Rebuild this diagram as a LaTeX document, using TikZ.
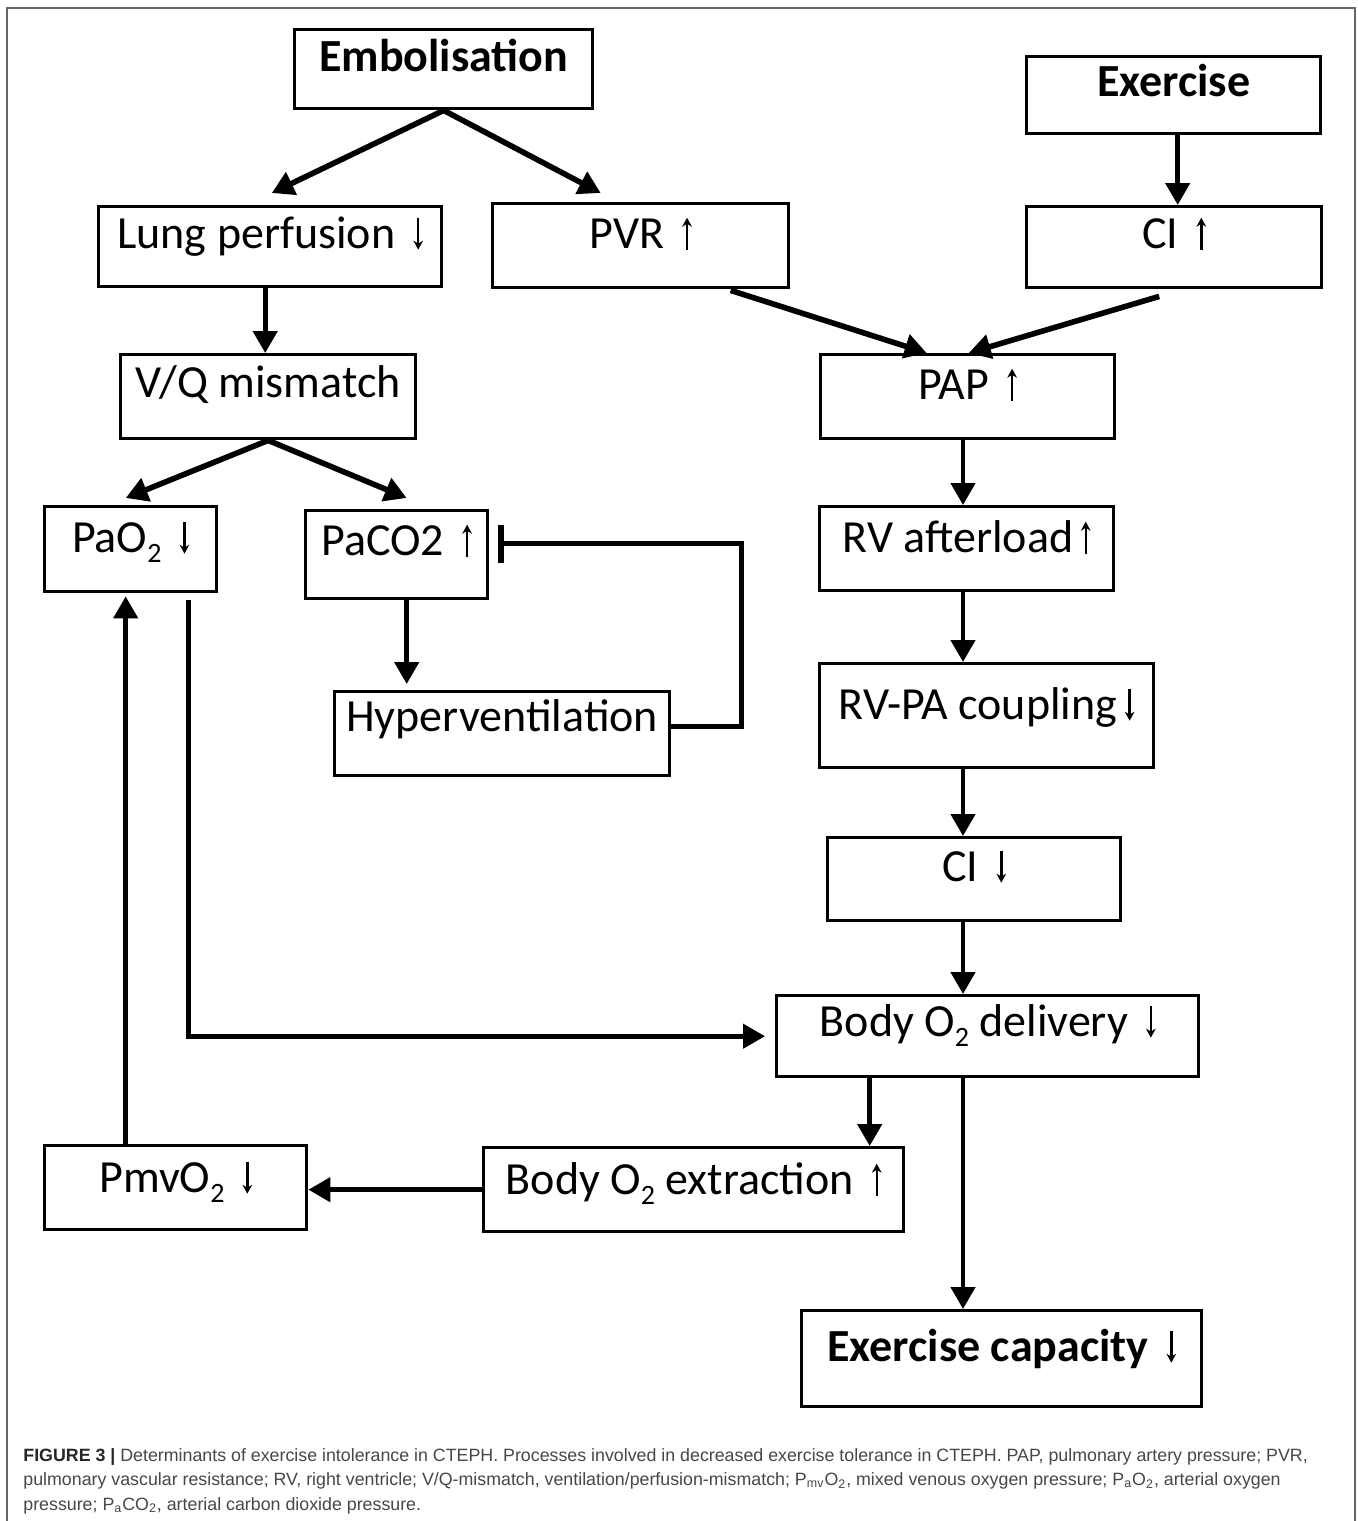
\documentclass[tikz,border=0pt]{standalone}
\usepackage{fontspec}
\setmainfont{Carlito}
\newfontfamily\capfont{Liberation Sans}
\usetikzlibrary{arrows.meta,calc}
\newcommand\uarr{\,\tikz[baseline=0pt]{\draw[line width=1.2pt,-{Stealth[length=4.5pt,width=4.8pt]}] (0pt,-0.5pt) -- (0pt,15.5pt);}}
\newcommand\darr{\,\tikz[baseline=0pt]{\draw[line width=1.2pt,-{Stealth[length=4.5pt,width=4.8pt]}] (0pt,15.5pt) -- (0pt,-0.5pt);}}
\newcommand\subtwo{\raisebox{-0.22em}{\fontsize{14}{14}\selectfont 2}}
\begin{document}
\begin{tikzpicture}[x=0.5pt,y=-0.5pt,
  bx/.style n args={3}{draw, line width=1.7pt, anchor=north west, inner xsep=0pt, inner ysep=0pt,
     minimum width=#1, text height=#2, text depth=#3, font=\fontsize{23}{27}\selectfont},
  bbx/.style n args={3}{bx={#1}{#2}{#3}, font=\fontsize{23}{27}\selectfont\bfseries},
  arr/.style={line width=2.3pt, -{Triangle[length=11pt,width=12pt]}},
  darr/.style={line width=2.8pt, -{Triangle[length=11pt,width=12pt]}},
  inh/.style={line width=2.6pt, -{Bar[width=19pt,line width=2.6pt]}},
  captext/.style={anchor=base west, inner sep=0pt, text=black!72, font=\capfont\fontsize{8.9}{10}\selectfont}
]
\useasboundingbox (0,0) rectangle (1358,1521);
\fill[white] (0,0) rectangle (1358,1521);
\draw[black!60, line width=0.8pt] (7,8) rectangle (1355,1560);

% boxes
\node[bbx={149pt}{21pt}{18.5pt}] (emb) at (293,28) {Embolisation};
\node[bbx={147pt}{20pt}{18.5pt}] (exer) at (1025,55) {Exercise};
\node[bx={171.5pt}{21pt}{19pt}] (lung) at (97,205) {Lung perfusion \darr};
\node[bx={148pt}{22.5pt}{19.5pt}] (pvr) at (491,202) {PVR \uarr};
\node[bx={147.5pt}{21pt}{19.5pt}] (cia) at (1025,205) {CI \uarr};
\node[bx={147.5pt}{21.5pt}{20.5pt}] (vq) at (119,353) {V/Q mismatch};
\node[bx={147pt}{22.5pt}{19.5pt}] (pap) at (819,353) {PAP \uarr};
\node[bx={86pt}{23pt}{19.5pt}] (pao) at (43,505) {PaO\subtwo{} \darr};
\node[bx={91pt}{22.5pt}{21.5pt}] (paco) at (304,509) {PaCO2 \uarr};
\node[bx={167.5pt}{20pt}{22pt}] (hyp) at (333,690) {Hyperventilation};
\node[bx={147pt}{23pt}{19pt}] (rva) at (818,505) {RV afterload\uarr};
\node[bx={167pt}{28pt}{24pt}] (rvpa) at (818,662) {RV-PA coupling\darr};
\node[bx={146.5pt}{22pt}{19.5pt}] (cid) at (826,836) {CI \darr};
\node[bx={211pt}{20.5pt}{20pt}] (del) at (775,994) {Body O\subtwo{} delivery \darr};
\node[bx={131pt}{23.5pt}{18.5pt}] (pmv) at (43,1144) {PmvO\subtwo{} \darr};
\node[bx={210pt}{23.5pt}{18.5pt}] (ext) at (482,1146) {Body O\subtwo{} extraction \uarr};
\node[bbx={200pt}{25.5pt}{22.5pt}] (capa) at (800,1309) {Exercise capacity \darr};

\coordinate (colx) at (963,0);

% connectors
\draw[darr] (emb.south) -- ($(lung.north)+(1.5,-12)$);
\draw[darr] (emb.south) -- ($(pvr.north)+(-40,-9)$);
\draw[arr] ([xshift=2pt]exer.south) -- ([xshift=2pt]exer.south |- cia.north);
\draw[arr] ([xshift=-2.5pt]lung.south) -- ([xshift=-2.5pt]lung.south |- vq.north);
\draw[darr] (vq.south) -- ($(pao.north)+(-5,-7)$);
\draw[darr] (vq.south) -- ($(paco.north)+(10,-11)$);
\draw[darr] ($(pvr.south)+(90,1)$) -- ($(pap.north)+(-41,0)$);
\draw[darr] ($(cia.south)+(-15,7)$) -- ($(pap.north)+(1,0)$);
\draw[arr] (colx |- pap.south) -- (colx |- rva.north);
\draw[arr] (colx |- rva.south) -- (colx |- rvpa.north);
\draw[arr] (colx |- rvpa.south) -- (colx |- cid.north);
\draw[arr] (colx |- cid.south) -- (colx |- del.north);
\draw[arr, shorten >=3pt] ([xshift=5pt]paco.south) -- ([xshift=5pt]paco.south |- hyp.north);
\draw[inh] ([yshift=3.5pt]hyp.east) -- ++(70,0) |- ($(paco.east)+(9,-11)$);
\draw[arr, shorten >=1.5pt] ([xshift=-25pt]pmv.north) -- ([xshift=-25pt]pmv.north |- pao.south);
\draw[arr, shorten >=5pt] ($(pao.south)+(57.5,7)$) |- (del.west);
\draw[arr] ([xshift=-59pt]del.south) -- ([xshift=-59pt]del.south |- ext.north);
\draw[arr] (colx |- del.south) -- (colx |- capa.north);
\draw[arr] (ext.west) -- (ext.west -| pmv.east);

% caption
\node[captext] (cap1) at (23,1461) {{\color{black!85}\textbf{FIGURE 3 |}} Determinants of exercise intolerance in CTEPH. Processes involved in decreased exercise tolerance in CTEPH. PAP, pulmonary artery pressure; PVR,};
\node[captext] (cap2) at (23,1485.5) {pulmonary vascular resistance; RV, right ventricle; V/Q-mismatch, ventilation/perfusion-mismatch; P\textsubscript{mv}O\textsubscript{2}, mixed venous oxygen pressure; P\textsubscript{a}O\textsubscript{2}, arterial oxygen};
\node[captext] (cap3) at (23,1510) {pressure; P\textsubscript{a}CO\textsubscript{2}, arterial carbon dioxide pressure.};
\end{tikzpicture}
\end{document}
